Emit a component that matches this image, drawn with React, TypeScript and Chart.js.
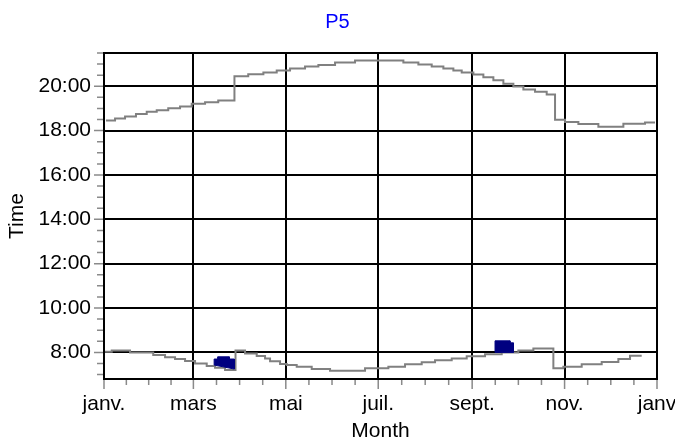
import React, { useEffect, useRef } from 'react';
import { Chart, registerables } from 'chart.js';

Chart.register(...registerables);

const FONT = "'Liberation Sans', Arial, Helvetica, sans-serif";

// x axis: day of year; labelled month starts
const monthLabels = ['janv.', 'mars', 'mai', 'juil.', 'sept.', 'nov.', 'janv'];
const monthDays = [0, 59, 120, 181, 243, 304, 365];

// y axis: hours of the day
const yMin = 6.8;
const yMax = 21.5;
const yLabelStep = 2;
const yTickStep = 0.5;

// upper (evening) stepped curve
const upperDays = [1.3, 7.3, 13.9, 21.1, 28.2, 34.8, 42.4, 50.2, 57.9, 66.7, 75.4, 86.1, 95.2, 105.2, 114.0, 122.8, 132.7, 141.5, 152.5, 165.7, 197.6, 207.5, 216.3, 224.0, 230.6, 236.1, 243.8, 250.4, 257.0, 263.6, 270.2, 276.8, 284.5, 292.2, 297.7, 304.3, 313.1, 326.3, 342.8, 357.1, 363.7];
const upperTimes = [18.46, 18.55, 18.64, 18.75, 18.85, 18.92, 19.01, 19.09, 19.21, 19.28, 19.36, 20.45, 20.54, 20.62, 20.71, 20.80, 20.89, 20.96, 21.07, 21.16, 21.07, 20.98, 20.89, 20.80, 20.71, 20.62, 20.53, 20.41, 20.27, 20.11, 19.99, 19.85, 19.75, 19.63, 18.49, 18.39, 18.30, 18.18, 18.31, 18.37, 18.37];

// lower (morning) stepped curve
const lowerDays = [0.7, 5.1, 17.2, 32.5, 40.3, 46.9, 53.5, 60.1, 67.8, 73.3, 79.9, 86.8, 93.1, 100.8, 106.3, 109.6, 116.2, 120.6, 127.2, 137.1, 149.2, 172.3, 187.7, 198.7, 209.7, 218.5, 229.5, 239.4, 251.5, 262.5, 273.5, 283.4, 296.6, 303.2, 315.3, 328.5, 339.5, 347.2, 354.9];
const lowerTimes = [8.03, 8.08, 8.0, 7.88, 7.78, 7.70, 7.61, 7.50, 7.39, 7.31, 7.21, 8.08, 7.95, 7.84, 7.72, 7.60, 7.48, 7.43, 7.35, 7.25, 7.17, 7.28, 7.35, 7.46, 7.55, 7.64, 7.73, 7.83, 7.92, 8.0, 8.09, 8.18, 7.28, 7.35, 7.46, 7.57, 7.70, 7.85, 7.85];

// filled dark blocks
const springBlockDays = [72.7, 72.7, 75.0, 75.0, 82.7, 82.7, 86.0, 86.0, 72.7];
const springBlockTimes = [7.43, 7.70, 7.70, 7.80, 7.80, 7.70, 7.70, 7.25, 7.43];
const autumnBlockDays = [258.1, 258.1, 268.0, 268.0, 270.2, 270.2, 258.1];
const autumnBlockTimes = [8.0, 8.52, 8.52, 8.43, 8.43, 8.0, 8.0];

const toPoints = (xs: number[], ys: number[]) => xs.map((x, i) => ({ x, y: ys[i] }));

const frameAndTicks = {
  id: 'frameAndTicks',
  afterDraw(chart: any) {
    const { ctx, chartArea: a, scales } = chart;
    const xs = scales.x;
    const ys = scales.y;
    ctx.save();
    ctx.strokeStyle = '#8a8a8a';
    ctx.lineWidth = 1.5;
    ctx.beginPath();
    ys.ticks.forEach((t: any) => {
      const py = ys.getPixelForValue(t.value);
      const len = t.major ? 10 : 7;
      ctx.moveTo(a.left - len, py);
      ctx.lineTo(a.left, py);
    });
    xs.ticks.forEach((t: any) => {
      const px = xs.getPixelForValue(t.value);
      const len = t.major ? 10 : 6;
      ctx.moveTo(px, a.bottom);
      ctx.lineTo(px, a.bottom + len);
    });
    ctx.stroke();
    ctx.strokeStyle = '#000000';
    ctx.lineWidth = 2;
    ctx.strokeRect(a.left, a.top, a.right - a.left, a.bottom - a.top);
    ctx.restore();
  },
};

export default function App() {
  const canvasRef = useRef<HTMLCanvasElement | null>(null);

  useEffect(() => {
    const canvas = canvasRef.current;
    if (!canvas) return;

    const chart = new Chart(canvas, {
      type: 'line',
      data: {
        datasets: [
          {
            label: 'spring',
            data: toPoints(springBlockDays, springBlockTimes),
            borderColor: '#000080',
            backgroundColor: '#000080',
            borderWidth: 1,
            pointRadius: 0,
            fill: 'shape',
            order: 0,
          },
          {
            label: 'autumn',
            data: toPoints(autumnBlockDays, autumnBlockTimes),
            borderColor: '#000080',
            backgroundColor: '#000080',
            borderWidth: 1,
            pointRadius: 0,
            fill: 'shape',
            order: 0,
          },
          {
            label: 'evening',
            data: toPoints(upperDays, upperTimes),
            borderColor: '#808080',
            borderWidth: 2,
            pointRadius: 0,
            stepped: true,
            fill: false,
            order: 1,
          },
          {
            label: 'morning',
            data: toPoints(lowerDays, lowerTimes),
            borderColor: '#808080',
            borderWidth: 2,
            pointRadius: 0,
            stepped: true,
            fill: false,
            order: 1,
          },
        ],
      },
      options: {
        responsive: false,
        animation: false,
        events: [],
        layout: { padding: 0 },
        plugins: {
          legend: { display: false },
          tooltip: { enabled: false },
          title: {
            display: true,
            text: 'P5',
            color: '#0000ff',
            font: { family: FONT, size: 20, weight: 'normal', lineHeight: 1.2 },
            padding: { top: 10, bottom: 19 },
          },
        },
        scales: {
          x: {
            type: 'linear',
            min: monthDays[0],
            max: monthDays[monthDays.length - 1],
            afterBuildTicks: (scale: any) => {
              const ticks: any[] = [];
              for (let i = 0; i < monthDays.length; i++) {
                ticks.push({ value: monthDays[i], major: true });
                if (i < monthDays.length - 1) {
                  const span = monthDays[i + 1] - monthDays[i];
                  for (let k = 1; k < 4; k++) {
                    ticks.push({ value: monthDays[i] + (span * k) / 4, major: false });
                  }
                }
              }
              scale.ticks = ticks;
            },
            afterFit: (scale: any) => {
              scale.height = 61;
              scale.paddingRight = 18;
            },
            ticks: {
              autoSkip: false,
              maxRotation: 0,
              minRotation: 0,
              padding: 13,
              color: '#000000',
              font: { family: FONT, size: 21 },
              callback: (v: any) => {
                const idx = monthDays.indexOf(Number(v));
                return idx >= 0 ? monthLabels[idx] : '';
              },
            },
            grid: {
              drawTicks: false,
              lineWidth: 2,
              color: (c: any) => (c.tick && c.tick.major ? '#000000' : 'rgba(0,0,0,0)'),
            },
            border: { display: false },
            title: {
              display: true,
              text: 'Month',
              color: '#000000',
              font: { family: FONT, size: 21, lineHeight: 1 },
              padding: { top: 0, bottom: -2 },
            },
          },
          y: {
            type: 'linear',
            min: yMin,
            max: yMax,
            afterBuildTicks: (scale: any) => {
              const ticks: any[] = [];
              const start = Math.ceil(yMin / yTickStep) * yTickStep;
              for (let v = start; v <= yMax + 1e-9; v += yTickStep) {
                const val = Math.round(v * 100) / 100;
                ticks.push({ value: val, major: Math.abs(val % yLabelStep) < 1e-9 });
              }
              scale.ticks = ticks;
            },
            afterFit: (scale: any) => {
              scale.width = 104;
            },
            ticks: {
              autoSkip: false,
              padding: 13,
              color: '#000000',
              font: { family: FONT, size: 21 },
              callback: (v: any) => {
                const n = Number(v);
                return Math.abs(n % yLabelStep) < 1e-9 ? `${n}:00` : '';
              },
            },
            grid: {
              drawTicks: false,
              lineWidth: 2,
              color: (c: any) => (c.tick && c.tick.major ? '#000000' : 'rgba(0,0,0,0)'),
            },
            border: { display: false },
            title: {
              display: true,
              text: 'Time',
              color: '#000000',
              font: { family: FONT, size: 21, lineHeight: 1 },
              padding: { top: 7, bottom: 0 },
            },
          },
        },
      },
      plugins: [frameAndTicks],
    } as any);

    return () => {
      chart.destroy();
    };
  }, []);

  return (
    <div style={{ position: 'fixed', left: 0, top: 0, width: 675, height: 440, background: '#ffffff' }}>
      <canvas ref={canvasRef} width={675} height={440} style={{ display: 'block', width: 675, height: 440 }} />
    </div>
  );
}
